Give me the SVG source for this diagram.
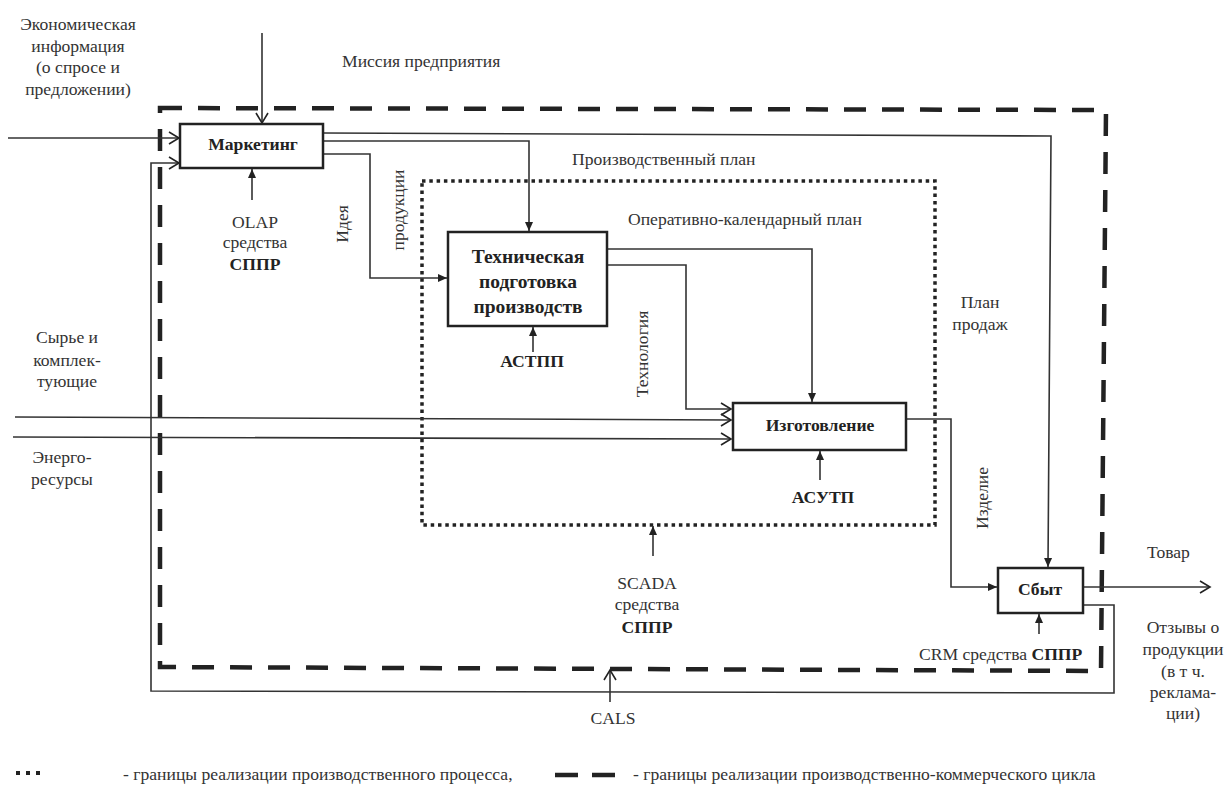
<svg xmlns="http://www.w3.org/2000/svg" width="1226" height="793" viewBox="0 0 1226 793" font-family="'Liberation Serif', 'Times New Roman', serif">
<defs>
<marker id="open" markerUnits="userSpaceOnUse" markerWidth="14" markerHeight="14" refX="12" refY="7" orient="auto">
<path d="M2,1 L12,7 L2,13" fill="none" stroke="#222" stroke-width="1.6"/>
</marker>
<marker id="fill" markerUnits="userSpaceOnUse" markerWidth="10" markerHeight="10" refX="9" refY="5" orient="auto">
<path d="M0,1 L9,5 L0,9 Z" fill="#222"/>
</marker>
</defs>
<style>
text{font-family:'Liberation Serif','Times New Roman',serif;font-size:17.6px;fill:#333}
.b{font-weight:bold;fill:#222}
.m{text-anchor:middle}
.box{fill:#fff;stroke:#222;stroke-width:2.5}
.c{fill:none;stroke:#333;stroke-width:1.6}
.o{marker-end:url(#open)}
.f{marker-end:url(#fill)}
.dash{fill:none;stroke:#222;stroke-width:4.5;stroke-dasharray:22 16}
.dot{fill:none;stroke:#222;stroke-width:3.5;stroke-dasharray:3.5 3.8}
</style>
<rect width="1226" height="793" fill="#fff"/>

<g id="boundaries">
<path class="dash" d="M160,108 L1106,110 L1101,671 L160,667 Z"/>
<rect class="dot" x="422" y="181" width="513" height="344"/>
</g>

<g id="connectors">
<path class="c o" d="M262,33 L262,123"/>
<path class="c o" d="M8,138 L179,138"/>
<path class="c o" d="M1083,605 L1114,605 L1114,693 L151,691 L151,163 L179,163"/>
<path class="c f" d="M323,133 L1051,136 L1048,567"/>
<path class="c f" d="M323,141 L529,141 L529,231"/>
<path class="c f" d="M323,154 L370,154 L370,278 L447,278"/>
<path class="c f" d="M607,249 L812,249 L812,402"/>
<path class="c o" d="M607,265 L686,265 L686,409 L731,409"/>
<path class="c o" d="M15,417 L731,420"/>
<path class="c o" d="M13,437 L731,439"/>
<path class="c f" d="M906,419 L951,419 L951,587 L997,587"/>
<path class="c o" d="M1083,587 L1210,587"/>
<path class="c f" d="M252,200 L252,169"/>
<path class="c f" d="M533,352 L533,327"/>
<path class="c f" d="M820,480 L820,451"/>
<path class="c f" d="M653,556 L653,526"/>
<path class="c f" d="M1039,634 L1039,614"/>
<path class="c o" d="M610,702 L610,670"/>
</g>

<g id="marketing">
<rect class="box" x="180" y="124" width="143" height="44"/>
<text class="b m" x="253" y="150">Маркетинг</text>
</g>
<g id="tech">
<rect class="box" x="448" y="232" width="159" height="94"/>
<text class="b m" x="528" y="263" style="font-size:19.5px">Техническая</text>
<text class="b m" x="528" y="288" style="font-size:19.5px">подготовка</text>
<text class="b m" x="528" y="313" style="font-size:19.5px">производств</text>
</g>
<g id="manufacture">
<rect class="box" x="733" y="403" width="173" height="47"/>
<text class="b m" x="820" y="431">Изготовление</text>
</g>
<g id="sales">
<rect class="box" x="998" y="568" width="85" height="45"/>
<text class="b m" x="1040" y="595">Сбыт</text>
</g>

<g id="labels">
<text class="m" x="78" y="30">Экономическая</text>
<text class="m" x="78" y="52">информация</text>
<text class="m" x="78" y="73">(о спросе и</text>
<text class="m" x="78" y="95">предложении)</text>
<text x="342" y="67">Миссия предприятия</text>
<text x="572" y="165">Производственный план</text>
<text x="628" y="225">Оперативно-календарный план</text>
<text class="m" x="980" y="308">План</text>
<text class="m" x="980" y="330">продаж</text>
<text class="m" transform="translate(348,224) rotate(-90)">Идея</text>
<text class="m" transform="translate(404,210) rotate(-90)">продукции</text>
<text class="m" transform="translate(648,354) rotate(-90)">Технология</text>
<text class="m" transform="translate(988,498) rotate(-90)">Изделие</text>
<text class="m" x="67" y="343">Сырье и</text>
<text class="m" x="67" y="366">комплек-</text>
<text class="m" x="67" y="387">тующие</text>
<text class="m" x="62" y="463">Энерго-</text>
<text class="m" x="62" y="485">ресурсы</text>
<text class="m" x="255" y="228">OLAP</text>
<text class="m" x="255" y="248">средства</text>
<text class="m b" x="255" y="270">СППР</text>
<text class="m b" x="532" y="367">АСТПП</text>
<text class="m b" x="823" y="503">АСУТП</text>
<text class="m" x="647" y="589">SCADA</text>
<text class="m" x="647" y="610">средства</text>
<text class="m b" x="647" y="633">СППР</text>
<text class="m" x="613" y="724">CALS</text>
<text x="919" y="660">CRM средства <tspan class="b">СППР</tspan></text>
<text x="1147" y="558">Товар</text>
<text class="m" x="1183" y="633">Отзывы о</text>
<text class="m" x="1183" y="655">продукции</text>
<text class="m" x="1183" y="677">(в т ч.</text>
<text class="m" x="1183" y="698">реклама-</text>
<text class="m" x="1183" y="719">ции)</text>
</g>

<g id="legend">
<rect x="16" y="771" width="4" height="4" fill="#222"/>
<rect x="26" y="771" width="4" height="4" fill="#222"/>
<rect x="36" y="771" width="4" height="4" fill="#222"/>
<text x="123" y="780">- границы реализации производственного процесса,</text>
<path d="M555,775 L578,775 M592,775 L615,775" stroke="#222" stroke-width="4.5"/>
<text x="633" y="780">- границы реализации производственно-коммерческого цикла</text>
</g>
</svg>
